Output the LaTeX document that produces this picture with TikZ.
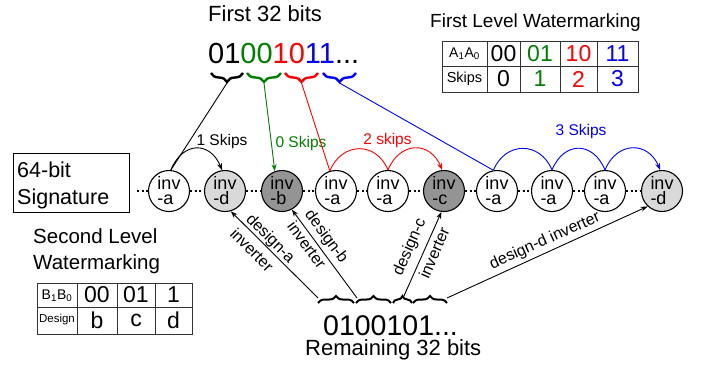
\documentclass[tikz,border=0pt]{standalone}
\usepackage{fontspec}
\setmainfont{Liberation Sans}
\usetikzlibrary{arrows.meta,decorations.pathreplacing}
\definecolor{mygreen}{RGB}{0,128,0}
\newcommand\fsz[1]{\fontsize{#1pt}{#1pt}\selectfont}
\begin{document}
\begin{tikzpicture}[x=1pt,y=-1pt,
  inv/.style={circle,draw,line width=1.1pt,minimum size=41pt,inner sep=0pt,align=left,
    font=\fontsize{18pt}{15pt}\selectfont,fill=white},
  invd/.style={inv,fill=black!15},
  invdk/.style={inv,fill=black!42},
  dotline/.style={line width=2pt,dash pattern=on 2pt off 2.5pt},
  topbrace/.style={decorate,decoration={brace,amplitude=9pt,mirror},line width=2.4pt},
  botbrace/.style={decorate,decoration={brace,amplitude=7pt},line width=2pt},
  tab/.style={line width=1pt,black!80},
  txt/.style={inner sep=0pt,anchor=base west},
  cell/.style={inner sep=0pt,font=\fsz{23}},
  lab/.style={inner sep=0pt,font=\fsz{16}},
  skl/.style={inner sep=0pt,anchor=base,font=\fsz{15.5}},
  conn/.style={line width=0.9pt},
  arr/.style={conn,-{Stealth[length=7pt,width=5pt]}}
]
\useasboundingbox (0,0) rectangle (702,368);

% top texts
\node[txt,font=\fsz{22}] (f32) at (208,21) {First 32 bits};
\node[txt,font=\fsz{29}] (bits) at (208,63) {01{\color{mygreen}00}{\color{red}10}{\color{blue}11}...};
\node[txt,font=\fsz{19}] (flw) at (430,27) {First Level Watermarking};

% top braces
\draw[topbrace] (211,73) -- (243,73);
\draw[topbrace,mygreen] (247,73) -- (281,73);
\draw[topbrace,red] (285,73) -- (318,73);
\draw[topbrace,blue] (323,73) -- (356,73);
\coordinate (t1) at (227,83);
\coordinate (t2) at (264,83);
\coordinate (t3) at (301.5,83);
\coordinate (t4) at (339.5,83);

% first level table
\draw[tab] (442,41) rectangle (638,92);
\draw[tab] (442,66) -- (638,66);
\foreach \x in {487,520,560,597} \draw[tab] (\x,41) -- (\x,92);
\node[inner sep=0pt,font=\fsz{14}] (ta) at (464.5,54) {A\textsubscript{1}A\textsubscript{0}};
\node[cell] (t00) at (503.5,53.5) {00};
\node[cell,mygreen] (t01) at (540,53.5) {01};
\node[cell,red] (t10) at (578.5,53.5) {10};
\node[cell,blue] (t11) at (617.5,53.5) {11};
\node[inner sep=0pt,font=\fsz{14.5}] (tsk) at (464.5,79) {Skips};
\node[cell] (s0) at (503.5,79) {0};
\node[cell,mygreen] (s1) at (540,79) {1};
\node[cell,red] (s2) at (578.5,79) {2};
\node[cell,blue] (s3) at (617.5,79) {3};

% signature box
\node[draw,line width=1.1pt,anchor=north west,minimum width=116pt,minimum height=59pt,inner sep=0pt] (sig) at (13,153) {};
\node[txt,font=\fsz{21.5}] (sig1) at (17,177) {64-bit};
\node[txt,font=\fsz{21.5}] (sig2) at (17,204) {Signature};

% inverter chain
\coordinate (start) at (137,191);
\node[inv] (a1) at (169,191) {inv\\-a};
\node[invd] (d1) at (225,191) {inv\\-d};
\node[invdk] (b) at (282,191) {inv\\-b};
\node[inv] (a2) at (336,191) {inv\\-a};
\node[inv] (a3) at (388,191) {inv\\-a};
\node[invdk] (c) at (444,191) {inv\\-c};
\node[inv] (a5) at (497,191) {inv\\-a};
\node[inv] (a6) at (552,191) {inv\\-a};
\node[inv] (a7) at (605,191) {inv\\-a};
\node[invd] (d2) at (662,191) {inv\\-d};
\draw[dotline] (start) -- (a1.west);
\foreach \p/\q in {a1/d1,d1/b,b/a2,a2/a3,a3/c,c/a5,a5/a6,a6/a7,a7/d2}
  \draw[dotline] (\p.east) -- (\q.west);

% first level connectors
\draw[conn] (t1) -- (a1.85);
\draw[arr] (a1.85) .. controls +(12,-29) and +(-12,-29) .. (d1.98);
\node[skl] (l1) at (222,145) {1 Skips};

\draw[arr,mygreen] (t2) -- (b.110);
\node[skl,mygreen] (l0) at (301,147) {0 Skips};

\draw[conn,red] (t3) -- (a2.107);
\draw[conn,red] (a2.107) .. controls +(12,-29) and +(-12,-29) .. (a3.north);
\draw[arr,red] (a3.north) .. controls +(12,-29) and +(-12,-29) .. (c.95);
\node[skl,red] (l2) at (387.5,144) {2 skips};

\draw[conn,blue] (t4) -- (a5.100);
\draw[conn,blue] (a5.100) .. controls +(12,-29) and +(-12,-29) .. (a6.north);
\draw[conn,blue] (a6.north) .. controls +(12,-29) and +(-12,-29) .. (a7.north);
\draw[arr,blue] (a7.north) .. controls +(12,-29) and +(-12,-29) .. (d2.95);
\node[skl,blue] (l3) at (581,135) {3 Skips};

% second level
\node[txt,font=\fsz{20.5}] (slw1) at (33,243) {Second Level};
\node[txt,font=\fsz{20.5}] (slw2) at (33,269) {Watermarking};
\draw[tab] (37,283) rectangle (192,334);
\draw[tab] (37,307) -- (192,307);
\foreach \x in {77,117,155} \draw[tab] (\x,283) -- (\x,334);
\node[inner sep=0pt,font=\fsz{14}] (tb) at (57,296) {B\textsubscript{1}B\textsubscript{0}};
\node[cell] (u00) at (97,295) {00};
\node[cell] (u01) at (136,295) {01};
\node[cell] (u1) at (173.5,295) {1};
\node[inner sep=0pt,font=\fsz{11.5}] (tds) at (57,320) {Design};
\node[cell] (ub) at (97,320.5) {b};
\node[cell] (uc) at (136,320.5) {c};
\node[cell] (ud) at (173.5,320.5) {d};

% bottom
\node[txt,font=\fsz{28.5}] (rem) at (323,335) {0100101...};
\node[txt,font=\fsz{22}] (remt) at (305,355) {Remaining 32 bits};
\draw[botbrace] (318,303) -- (354,303);
\draw[botbrace] (356,303) -- (391,303);
\draw[botbrace] (393,303) -- (412,303);
\draw[botbrace] (413,303) -- (447,303);
\coordinate (b1) at (318,298);
\coordinate (b2) at (357,298);
\coordinate (b3) at (403.5,297);
\coordinate (b4) at (447,298);

\draw[arr] (b1) -- (d1.-74);
\node[lab,rotate=-45] (la1) at (270,239) {design-a};
\node[lab,rotate=-45] (la2) at (252,250) {inverter};

\draw[arr] (b2) -- (b.-62);
\node[lab,rotate=-53.6] (lb1) at (326,237) {design-b};
\node[lab,rotate=-53.6] (lb2) at (307,245) {inverter};

\draw[arr] (b3) -- (c.-97);
\node[lab,rotate=66.5] (lc1) at (410,247) {design-c};
\node[lab,rotate=66.5] (lc2) at (434,253) {inverter};

\draw[arr] (b4) -- (d2.-133);
\node[lab,rotate=24.1] (ld) at (545,241) {design-d inverter};
\end{tikzpicture}
\end{document}
